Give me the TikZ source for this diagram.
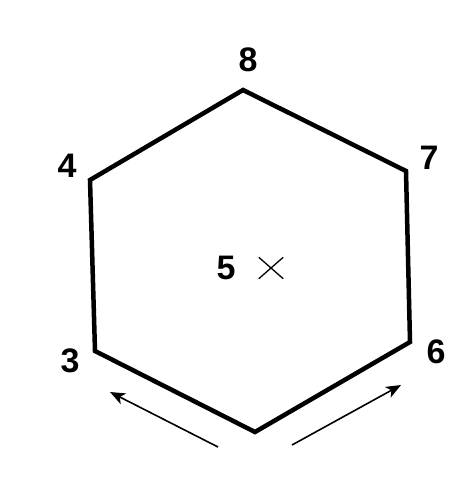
\documentclass[tikz,border=0pt]{standalone}
\usepackage{fontspec}
\setmainfont{Liberation Sans}
\usetikzlibrary{arrows.meta, shapes.misc}

\begin{document}
\begin{tikzpicture}[
  x=1pt, y=-1pt,
  every node/.style={font=\fontsize{34}{36}\selectfont\bfseries, inner sep=0pt},
  edge/.style={line width=4.5pt, line join=miter},
  arr/.style={-{Stealth[length=15pt, width=12pt, inset=4pt]}, line width=1.6pt},
  centremark/.style={cross out, draw, line width=1.3pt, minimum width=23pt,
                     minimum height=20pt, inner sep=0pt}
]
\useasboundingbox (0,0) rectangle (454,490);
% corners of the hexagon
\coordinate (v8) at (243,90);
\coordinate (v7) at (406,171);
\coordinate (v6) at (410,342);
\coordinate (vb) at (255,432);
\coordinate (v3) at (95,351);
\coordinate (v4) at (90,180);
\draw[edge] (v8) -- (v7) -- (v6) -- (vb) -- (v3) -- (v4) -- cycle;

% labels
\node (l8) at (248,60) {8};
\node (l7) at (429,158) {7};
\node (l6) at (436,352) {6};
\node (l3) at (70,361) {3};
\node (l4) at (67,166) {4};
\node (l5) at (226,268) {5};
\node[centremark] (cx) at (271,268) {};

% arrows under the hexagon
\coordinate (al0) at (218,447);
\coordinate (al1) at (110,392);
\coordinate (ar0) at (292,445);
\coordinate (ar1) at (401,385);
\draw[arr] (al0) -- (al1);
\draw[arr] (ar0) -- (ar1);
\end{tikzpicture}
\end{document}
